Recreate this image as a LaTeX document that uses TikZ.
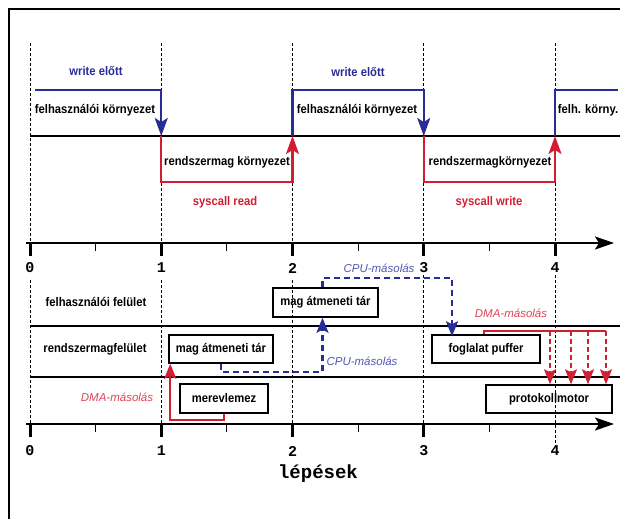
\documentclass[tikz,border=0pt]{standalone}
\usepackage{fontspec}
\setmainfont{Liberation Sans}
\setmonofont{Liberation Mono}
\newfontfamily\lblfont[FakeStretch=0.9]{Liberation Sans}
\usepackage{xcolor}
\usetikzlibrary{arrows.meta,calc,positioning}
\definecolor{sysblue}{RGB}{40,45,150}
\definecolor{sysred}{RGB}{210,30,50}
\definecolor{labblue}{RGB}{85,85,180}
\definecolor{labred}{RGB}{225,65,85}

\begin{document}
\begin{tikzpicture}[x=1pt,y=-1pt,
  lbl/.style={font=\lblfont\bfseries\fontsize{12.5}{14}\selectfont,inner sep=1pt},
  box/.style={draw,line width=1.5pt,minimum height=28pt,inner sep=0pt,font=\lblfont\bfseries\fontsize{12.5}{14}\selectfont},
  ital/.style={font=\itshape\fontsize{11.5}{13}\selectfont,inner sep=1pt},
  ticklbl/.style={font=\ttfamily\bfseries\fontsize{15}{15}\selectfont,inner sep=0pt},
  guide/.style={line width=0.9pt,dash pattern=on 3pt off 2pt},
  level/.style={line width=2.3pt},
  axisline/.style={line width=2.3pt,-{Stealth[length=19pt,width=13pt,inset=4pt]}},
  bigtip/.style={-{Stealth[length=18pt,width=13pt,inset=4pt]}},
  smalltip/.style={-{Stealth[length=15pt,width=12pt,inset=3pt]}},
  bluestep/.style={sysblue,line width=2.2pt},
  redstep/.style={sysred,line width=2.2pt},
  cpu/.style={sysblue,line width=2.4pt,dash pattern=on 6pt off 4pt,smalltip},
  dma/.style={sysred,line width=2.2pt}]
\useasboundingbox (0,0) rectangle (620,519);
\draw[line width=1.3pt] (9,519) -- (9,9) -- (620,9);

% upper part: contexts
\foreach \i in {0,...,4} {
  \coordinate (m\i) at ({30+131.25*\i},136);
  \draw[guide] ({30+131.25*\i},43) -- ({30+131.25*\i},243);
}
\draw[level] (30,136) -- (620,136);
\draw[bluestep,bigtip] (35,90) -| (m1);
\draw[redstep,bigtip] (m1) -- ++(0,46) -| (m2);
\draw[bluestep,bigtip] (m2) -- ++(0,-46) -| (m3);
\draw[redstep,bigtip] (m3) -- ++(0,46) -| (m4);
\draw[bluestep] (m4) -- ++(0,-46) -- (618,90);

\node[lbl,sysblue] (we1) at (96,71) {write előtt};
\node[lbl,sysblue] (we2) at (358,72) {write előtt};
\node[lbl] (fk1) at (95,110) {felhasználói környezet};
\node[lbl] (fk2) at (357,110) {felhasználói környezet};
\node[lbl] (fk3) at (588,110) {felh. körny.};
\node[lbl] (rk1) at (227,162) {rendszermag környezet};
\node[lbl] (rk2) at (490,162) {rendszermagkörnyezet};
\node[lbl,sysred] (sr) at (225,202) {syscall read};
\node[lbl,sysred] (sw) at (489,202) {syscall write};

% upper axis
\draw[axisline] (26,243) -- (614,243);
\foreach \i in {0,...,4} {
  \draw[line width=3pt] ({30+131.25*\i},242) -- ++(0,14);
  \node[ticklbl] (ta\i) at ({30+131.25*\i},268) {\i};
}
\foreach \i in {0,...,3}
  \draw[line width=1pt] ({95.6+131.25*\i},243) -- ++(0,8);

% lower part: buffers
\foreach \i/\a/\b in {0/280/424,1/280/424,2/280/424,3/275/424,4/275/446}
  \draw[guide] ({30+131.25*\i},\a) -- ({30+131.25*\i},\b);
\draw[level] (31,326) -- (620,326);
\draw[level] (31,377) -- (620,377);

\node[lbl] (uf) at (96,302) {felhasználói felület};
\node[lbl] (rf) at (95,349) {rendszermagfelület};

\node[box,minimum width=104pt] (kbuf) at (221,349) {mag átmeneti tár};
\node[box,minimum width=88pt,minimum height=29pt] (hdd) at (224,398.5) {merevlemez};
\node[box,minimum width=105pt,minimum height=29pt] (ubuf) at (325.5,302.5) {mag átmeneti tár};
\node[box,minimum width=108pt] (sock) at (486,349) {foglalat puffer};
\node[box,minimum width=126pt] (proto) at (549,399) {protokollmotor};

\draw[dma,smalltip] (hdd.south) -- ++(0,6) -| ([xshift=2pt]kbuf.south west);
\draw[cpu] (kbuf.south) -- ++(0,8) -| ([xshift=-3pt]ubuf.south);
\draw[cpu] ([xshift=-3pt]ubuf.north) -- ++(0,-9) -| ([xshift=-34pt,yshift=-2pt]sock.north);
\coordinate (dmaend) at (606,331);
\draw[dma] ([xshift=-2pt]sock.north) |- (dmaend);
\foreach \x [count=\k] in {550,571,588,606} {
  \coordinate (d\k) at (\x,331);
  \draw[dma,smalltip,dash pattern=on 5pt off 3pt] (d\k) -- (d\k |- proto.north);
}

\node[ital,labred] (dma1) at (117,397) {DMA-másolás};
\node[ital,labblue] (cpu1) at (362,361) {CPU-másolás};
\node[ital,labblue] (cpu2) at (379,268) {CPU-másolás};
\node[ital,labred] (dma2) at (511,313) {DMA-másolás};

% lower axis
\draw[axisline] (26,424) -- (614,424);
\foreach \i in {0,...,3}
  \draw[line width=3pt] ({30+131.25*\i},423) -- ++(0,14);
\foreach \i in {0,...,3}
  \draw[line width=1pt] ({95.6+131.25*\i},424) -- ++(0,8);
\foreach \i in {0,...,4}
  \node[ticklbl] (tb\i) at ({30+131.25*\i},451) {\i};
\node[font=\ttfamily\bfseries\fontsize{19}{19}\selectfont] (steps) at (318,474) {lépések};
\end{tikzpicture}
\end{document}
